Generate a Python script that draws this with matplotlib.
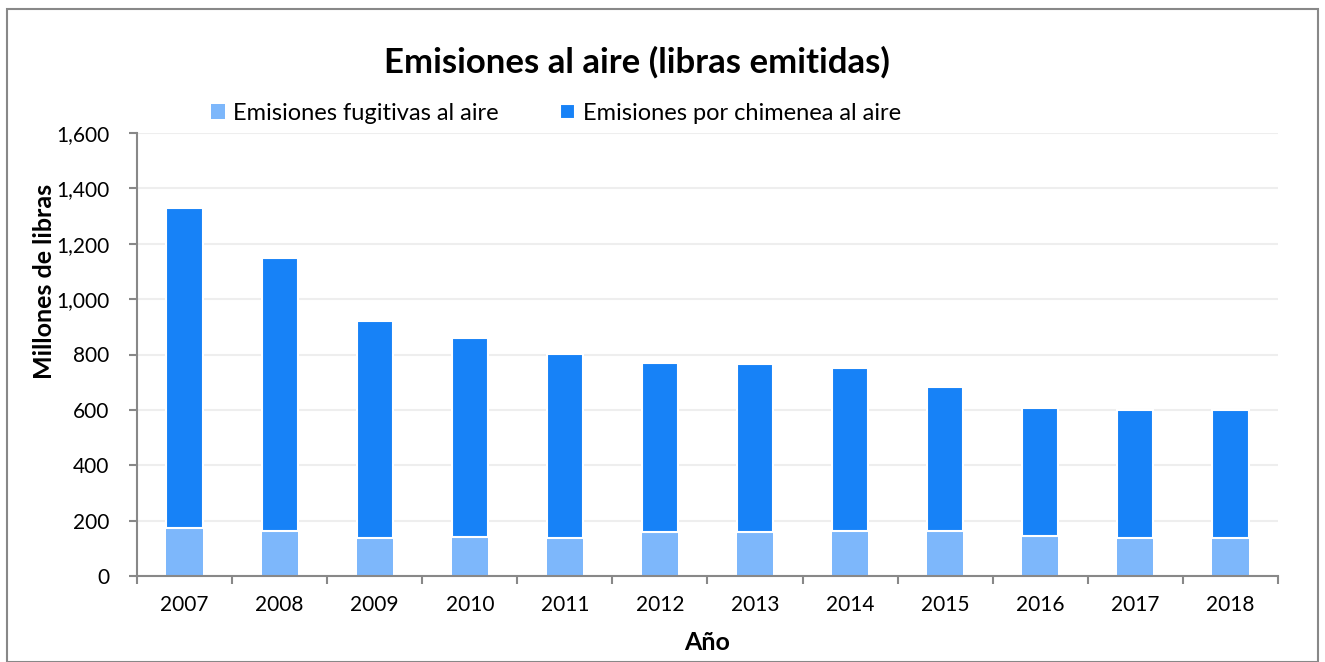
import matplotlib
matplotlib.use("Agg")
import matplotlib.pyplot as plt
from matplotlib.patches import Rectangle
from matplotlib.ticker import FuncFormatter, FixedLocator
import numpy as np

years = ["2007", "2008", "2009", "2010", "2011", "2012", "2013", "2014", "2015", "2016", "2017", "2018"]
fugitive = [174, 162, 137, 141, 137, 158, 160, 162, 162, 144, 137, 137]
totals = [1330, 1150, 920, 858, 803, 771, 764, 752, 684, 608, 599, 599]
stack = [t - f for t, f in zip(totals, fugitive)]

plt.rcParams['font.family'] = ['Lato', 'DejaVu Sans']

fig = plt.figure(figsize=(13.25, 6.62), dpi=100)
ax = fig.add_axes([137/1325, 1-576/662, (1278-137)/1325, (576-133)/662])

x = np.arange(len(years))
w = 0.38
c_fug = "#7db7fb"
c_stk = "#1782f7"
ax.bar(x, fugitive, w, color=c_fug, edgecolor="none", label="Emisiones fugitivas al aire", zorder=3)
ax.bar(x, stack, w, bottom=fugitive, color=c_stk, edgecolor="white", linewidth=1.5,
       label="Emisiones por chimenea al aire", zorder=3)

ax.set_xlim(-0.5, len(years)-0.5)
ax.set_ylim(0, 1600)
ax.set_yticks(np.arange(0, 1601, 200))
ax.yaxis.set_major_formatter(FuncFormatter(lambda v, p: f"{int(v):,}"))
ax.set_xticks(x)
ax.set_xticklabels(years)
ax.xaxis.set_minor_locator(FixedLocator(np.arange(-0.5, len(years), 1)))
ax.tick_params(axis='x', which='major', length=0, labelsize=15, pad=14)
ax.tick_params(axis='x', which='minor', length=6, color="#888888", width=1.5, direction='out')
ax.tick_params(axis='y', length=6, color="#888888", width=1.5, labelsize=15, direction='out', pad=14)
ax.grid(axis='y', color="#eeeeee", linewidth=1.5, zorder=0)
ax.set_axisbelow(True)
for s in ["top", "right"]:
    ax.spines[s].set_visible(False)
for s in ["left", "bottom"]:
    ax.spines[s].set_color("#888888")
    ax.spines[s].set_linewidth(1.5)
    ax.spines[s].set_zorder(4)

ax.set_ylabel("Millones de libras", fontsize=18, fontweight='bold', va='center')
ax.yaxis.set_label_coords((45-137)/1141, (576-281)/443)
ax.set_xlabel("Año", fontsize=18, fontweight='bold', va='center')
ax.xaxis.set_label_coords(0.5, (576-642)/443)

fig.text(637/1325, 1-62/662, "Emisiones al aire (libras emitidas)", fontsize=25, fontweight='bold', ha='center', va='center')
fig.legend(loc='center', bbox_to_anchor=(556/1325, 1-113/662), ncol=2, frameon=False, fontsize=17,
           handlelength=0.6, handleheight=0.6, handletextpad=0.35, columnspacing=2.6)

fig.patches.append(Rectangle((7/1325, 0), (1318-7)/1325, 1-9/662, transform=fig.transFigure,
                             fill=False, edgecolor="#888888", linewidth=1.5))

fig.savefig("out.png", dpi=100)
